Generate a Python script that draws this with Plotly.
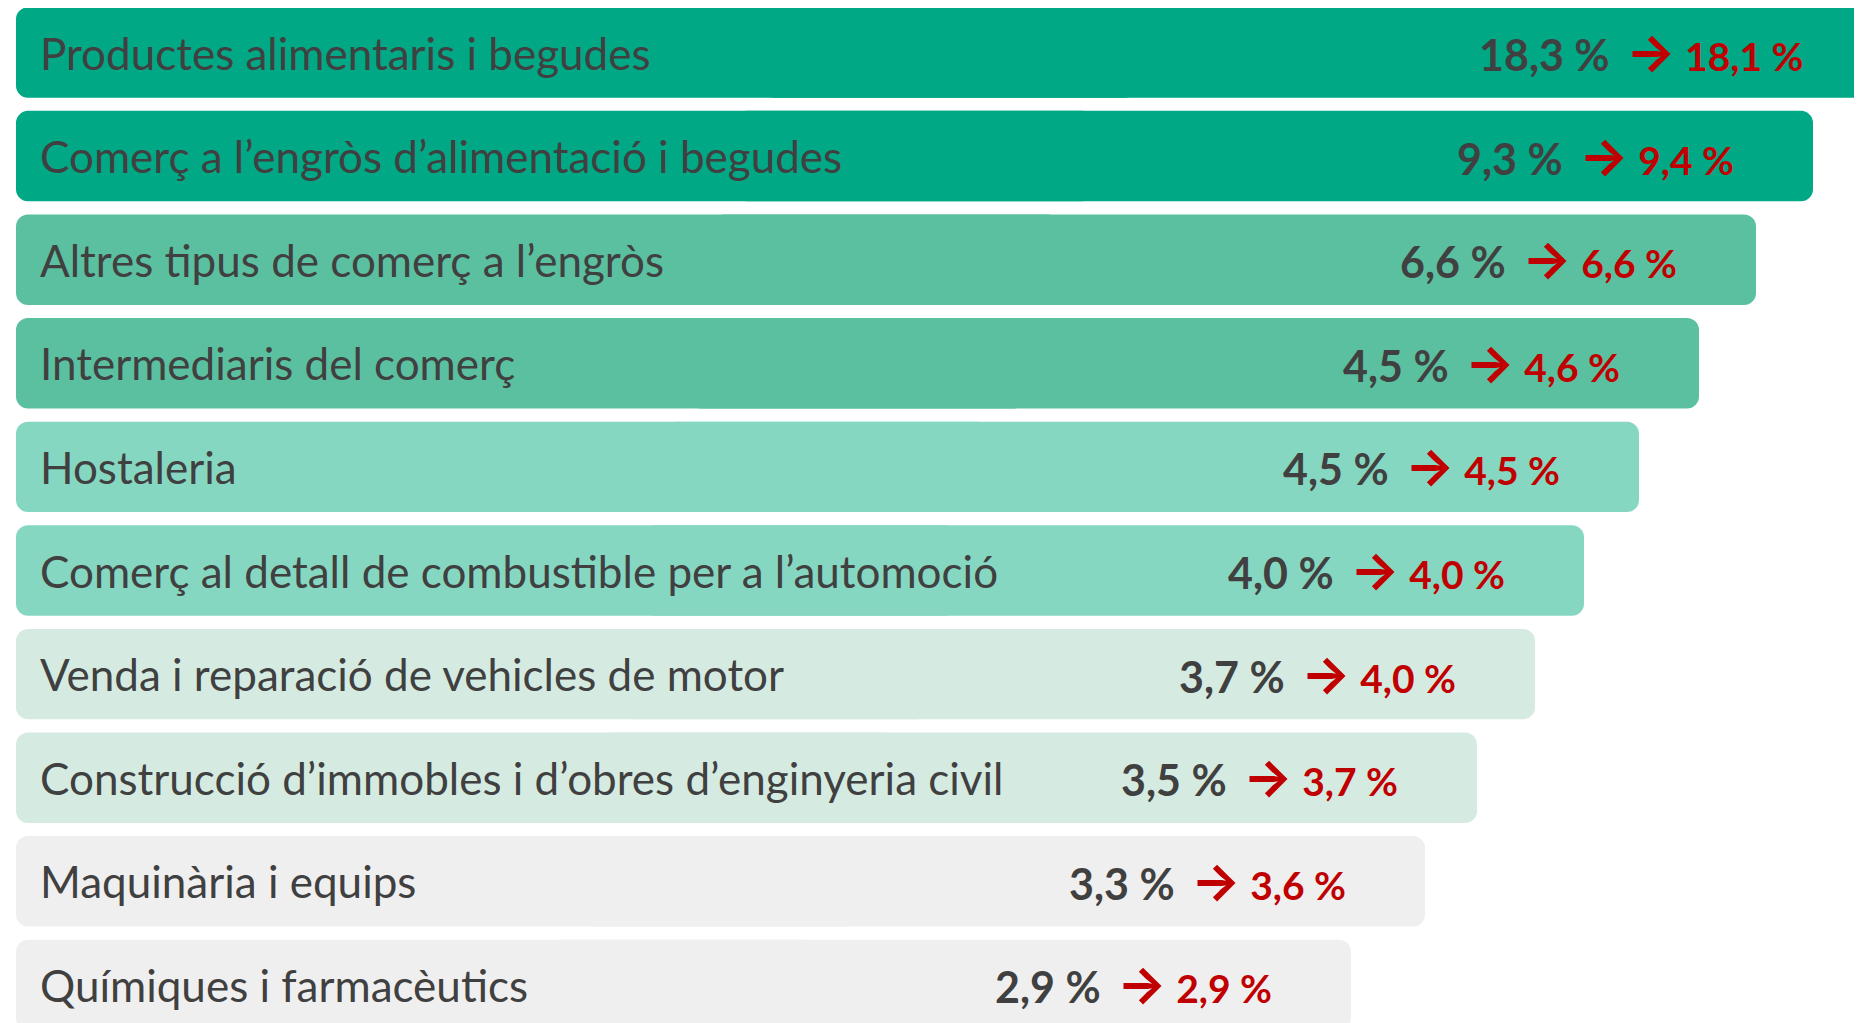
import plotly.graph_objects as go

# ---- data ----
categories = [
    "Productes alimentaris i begudes",
    "Comerç a l’engròs d’alimentació i begudes",
    "Altres tipus de comerç a l’engròs",
    "Intermediaris del comerç",
    "Hostaleria",
    "Comerç al detall de combustible per a l’automoció",
    "Venda i reparació de vehicles de motor",
    "Construcció d’immobles i d’obres d’enginyeria civil",
    "Maquinària i equips",
    "Químiques i farmacèutics",
]
share_before = ["18,3", "9,3", "6,6", "4,5", "4,5", "4,0", "3,7", "3,5", "3,3", "2,9"]
share_after = ["18,1", "9,4", "6,6", "4,6", "4,5", "4,0", "4,0", "3,7", "3,6", "2,9"]
# visual length of each bar in the infographic (ranking bars, not proportional)
bar_length = [1867, 1797, 1740, 1683, 1623, 1568, 1519, 1461, 1409, 1335]

# ---- styles ----
bar_colors = ["#00A886", "#00A886", "#5BC0A0", "#5BC0A0", "#86D7C1", "#86D7C1",
              "#D5EBE2", "#D5EBE2", "#EFEFEF", "#EFEFEF"]
TEXT = "#404040"
RED = "#C00000"
FONT = "Lato"

n = len(categories)
ys = list(range(n))

fig = go.Figure()
# right half with rounded right end
fig.add_trace(go.Bar(
    y=ys, x=[L * 0.6 for L in bar_length], base=[L * 0.4 for L in bar_length],
    orientation="h", width=0.873,
    marker=dict(color=bar_colors, cornerradius=12, line=dict(width=0)),
    hoverinfo="skip", showlegend=False,
))
# left half with rounded left end
fig.add_trace(go.Bar(
    y=ys, x=[-L * 0.6 for L in bar_length], base=[L * 0.6 for L in bar_length],
    orientation="h", width=0.873,
    marker=dict(color=bar_colors, cornerradius=12, line=dict(width=0)),
    hoverinfo="skip", showlegend=False,
))

annotations = []
for i, (cat, b, a, L) in enumerate(zip(categories, share_before, share_after, bar_length)):
    annotations.append(dict(
        x=22, y=i, xref="x", yref="y", text=cat, showarrow=False,
        xanchor="left", yanchor="middle",
        font=dict(family=FONT, size=44, color=TEXT),
    ))
    annotations.append(dict(
        x=L - 77, y=i, xref="x", yref="y",
        text=(f"<b>{b}\u00a0%</b>\u00a0\u2009"
              f"<span style='color:{RED};font-family:Inter;font-size:52px'><b>→</b></span>"
              f"<span style='color:{RED};font-size:39px'><b>\u00a0{a}\u00a0%</b></span>"),
        showarrow=False, xanchor="right", yanchor="middle",
        font=dict(family=FONT, size=43, color=TEXT),
    ))

fig.update_layout(
    width=1862, height=1023,
    margin=dict(l=0, r=0, t=0, b=0),
    paper_bgcolor="white", plot_bgcolor="white",
    barmode="overlay",
    xaxis=dict(range=[-8, 1854], visible=False, fixedrange=True),
    yaxis=dict(range=[9.445, -0.4295], visible=False, fixedrange=True),
    annotations=annotations,
    showlegend=False,
)

fig.write_html("out.html")
